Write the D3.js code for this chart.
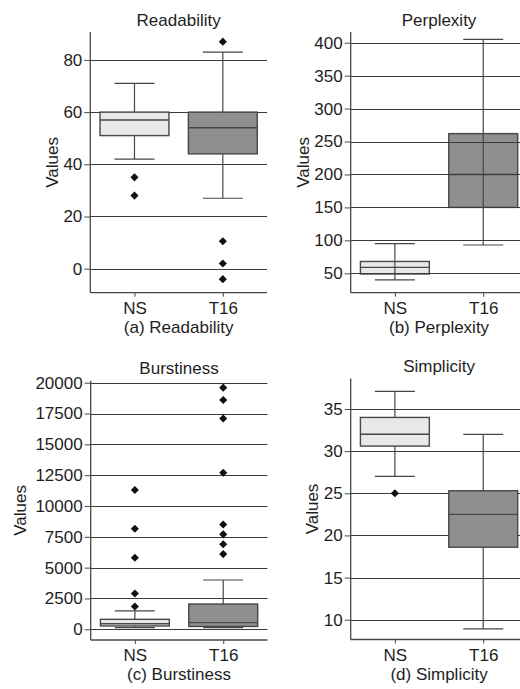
<!DOCTYPE html>
<html>
<head>
<meta charset="utf-8">
<script src="https://cdn.jsdelivr.net/npm/d3@7"></script>
<style>
  body { margin: 0; background: #fff; }
  svg { display: block; font-family: "Liberation Sans", Arial, sans-serif; }
</style>
</head>
<body>
<div id="chart"></div>
<script>
// groups on the x axis
const groups = ["NS", "T16"];

// box stats per group: [low whisker, q1, median, q3, high whisker]
const readabilityBox = [[42, 51, 57, 60, 71], [27, 44, 54, 60, 83]];
const readabilityOut = [[35, 28], [87, 10.5, 2, -4]];
const readabilityTicks = [0, 20, 40, 60, 80];

const perplexityBox = [[40, 49, 59, 68, 95], [93, 150, 200, 262, 405]];
const perplexityOut = [[], []];
const perplexityTicks = [50, 100, 150, 200, 250, 300, 350, 400];

const burstinessBox = [[130, 270, 450, 810, 1500], [130, 230, 540, 2050, 4000]];
const burstinessOut = [
  [11300, 8150, 5800, 2900, 1850],
  [19600, 18600, 17100, 12700, 8500, 7700, 6900, 6100]
];
const burstinessTicks = [0, 2500, 5000, 7500, 10000, 12500, 15000, 17500, 20000];

const simplicityBox = [[27, 30.6, 32, 34, 37.1], [8.9, 18.6, 22.5, 25.3, 32]];
const simplicityOut = [[25], []];
const simplicityTicks = [10, 15, 20, 25, 30, 35];

const fills = ["#e8e8e8", "#8f8f8f"];

const panels = [
  { title: "Readability", caption: "(a) Readability", box: readabilityBox, out: readabilityOut,
    ticks: readabilityTicks, domain: [-9.2, 90.7], left: 90.3, top: 32, bottom: 292.7, labelX: 52, gridOnTop: false },
  { title: "Perplexity", caption: "(b) Perplexity", box: perplexityBox, out: perplexityOut,
    ticks: perplexityTicks, domain: [20.6, 416.2], left: 350.7, top: 32, bottom: 292.7, labelX: 303.5, gridOnTop: true },
  { title: "Burstiness", caption: "(c) Burstiness", box: burstinessBox, out: burstinessOut,
    ticks: burstinessTicks, domain: [-868, 20162], left: 90.7, top: 380.7, bottom: 640, labelX: 20, gridOnTop: false },
  { title: "Simplicity", caption: "(d) Simplicity", box: simplicityBox, out: simplicityOut,
    ticks: simplicityTicks, domain: [7.65, 38.62], left: 350.7, top: 378.5, bottom: 639.5, labelX: 311.7, gridOnTop: false }
];

const W = 520, H = 689;
const plotW = 176.7;
const lineCol = "#474747";
const textCol = "#1e1e1e";

const svg = d3.select("#chart").append("svg")
  .attr("width", W)
  .attr("height", H);

panels.forEach((p) => {
  const g = svg.append("g");
  const right = p.left + plotW;

  const x = d3.scalePoint().domain(groups).range([p.left, right]).padding(0.5);
  const boxW = x.step() * 0.78;
  const capW = 40;
  const y = d3.scaleLinear().domain(p.domain).range([p.bottom, p.top]);

  const gridLayer = g.append("g");
  const boxLayer = g.append("g");
  const topLayer = g.append("g");

  // grid lines
  const gridParent = p.gridOnTop ? topLayer : gridLayer;
  gridParent.selectAll("line.grid")
    .data(p.ticks)
    .join("line")
    .attr("class", "grid")
    .attr("x1", p.left)
    .attr("x2", right)
    .attr("y1", (d) => Math.round(y(d)) + 0.5)
    .attr("y2", (d) => Math.round(y(d)) + 0.5)
    .attr("stroke", "#3a3a3a")
    .attr("stroke-width", 1);

  // y axis
  const yAxis = g.append("g")
    .attr("transform", `translate(${p.left},0)`)
    .call(d3.axisLeft(y).tickValues(p.ticks).tickSize(6).tickPadding(2).tickFormat(d3.format("d")));
  yAxis.select(".domain").remove();
  yAxis.selectAll(".tick line").attr("stroke", lineCol);
  yAxis.selectAll(".tick text")
    .attr("fill", textCol)
    .style("font-size", "17px")
    .style("font-family", "'Liberation Sans', Arial, sans-serif");

  // x axis
  const xAxis = g.append("g")
    .attr("transform", `translate(0,${p.bottom})`)
    .call(d3.axisBottom(x).tickSize(4).tickPadding(5));
  xAxis.select(".domain").remove();
  xAxis.selectAll(".tick line").attr("stroke", lineCol);
  xAxis.selectAll(".tick text")
    .attr("fill", textCol)
    .style("font-size", "17px")
    .style("font-family", "'Liberation Sans', Arial, sans-serif");

  // spines
  g.append("line")
    .attr("x1", p.left).attr("x2", p.left)
    .attr("y1", p.top).attr("y2", p.bottom)
    .attr("stroke", lineCol).attr("stroke-width", 1.3);
  g.append("line")
    .attr("x1", p.left).attr("x2", right)
    .attr("y1", p.bottom).attr("y2", p.bottom)
    .attr("stroke", lineCol).attr("stroke-width", 1.3);

  const stats = groups.map((name, i) => ({ name, s: p.box[i], fill: fills[i] }));

  // whiskers
  const whiskParent = p.gridOnTop ? topLayer : gridLayer;
  whiskParent.selectAll("line.whisk")
    .data(stats)
    .join("line")
    .attr("class", "whisk")
    .attr("x1", (d) => x(d.name)).attr("x2", (d) => x(d.name))
    .attr("y1", (d) => y(d.s[0])).attr("y2", (d) => y(d.s[4]))
    .attr("stroke", lineCol).attr("stroke-width", 1.2);

  ["low", "high"].forEach((k, j) => {
    boxLayer.selectAll(`line.cap-${k}`)
      .data(stats)
      .join("line")
      .attr("x1", (d) => x(d.name) - capW / 2)
      .attr("x2", (d) => x(d.name) + capW / 2)
      .attr("y1", (d) => y(d.s[j * 4]))
      .attr("y2", (d) => y(d.s[j * 4]))
      .attr("stroke", lineCol).attr("stroke-width", 1.2);
  });

  // boxes
  boxLayer.selectAll("rect.box")
    .data(stats)
    .join("rect")
    .attr("class", "box")
    .attr("x", (d) => x(d.name) - boxW / 2)
    .attr("width", boxW)
    .attr("y", (d) => y(d.s[3]))
    .attr("height", (d) => y(d.s[1]) - y(d.s[3]))
    .attr("fill", (d) => d.fill)
    .attr("stroke", lineCol)
    .attr("stroke-width", 1.4);

  // medians
  boxLayer.selectAll("line.median")
    .data(stats)
    .join("line")
    .attr("x1", (d) => x(d.name) - boxW / 2)
    .attr("x2", (d) => x(d.name) + boxW / 2)
    .attr("y1", (d) => y(d.s[2]))
    .attr("y2", (d) => y(d.s[2]))
    .attr("stroke", lineCol).attr("stroke-width", 1.4);

  // outliers as diamonds
  const outs = [];
  groups.forEach((name, i) => p.out[i].forEach((v) => outs.push({ name, v })));
  g.selectAll("path.out")
    .data(outs)
    .join("path")
    .attr("d", d3.symbol(d3.symbolDiamond2, 42))
    .attr("transform", (d) => `translate(${x(d.name)},${y(d.v)})`)
    .attr("fill", "#111");

  // titles and labels
  const cx = (p.left + right) / 2;
  g.append("text")
    .attr("x", cx).attr("y", p.top - 6.5)
    .attr("text-anchor", "middle")
    .attr("fill", textCol)
    .style("font-size", "17px")
    .text(p.title);

  g.append("text")
    .attr("x", cx).attr("y", p.bottom + 40)
    .attr("text-anchor", "middle")
    .attr("fill", textCol)
    .style("font-size", "17px")
    .text(p.caption);

  g.append("text")
    .attr("transform", `translate(${p.labelX},${(p.top + p.bottom) / 2}) rotate(-90)`)
    .attr("dy", "0.35em")
    .attr("text-anchor", "middle")
    .attr("fill", textCol)
    .style("font-size", "17px")
    .text("Values");
});
</script>
</body>
</html>
